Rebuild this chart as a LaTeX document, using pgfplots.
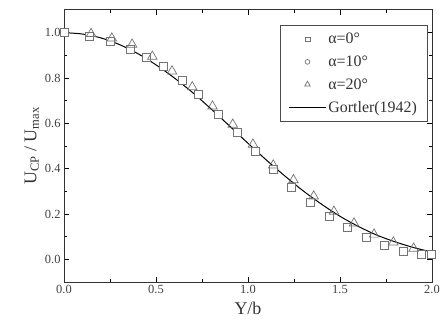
\documentclass[border=0pt]{standalone}
\usepackage{fontspec}
\setmainfont{Liberation Serif}
\usepackage{pgfplots}
\pgfplotsset{compat=1.18}
\begin{document}
\begin{tikzpicture}
\begin{axis}[
  scale only axis,
  width=368bp, height=272bp,
  xmin=0, xmax=2, ymin=-0.1, ymax=1.1,
  xtick={0,0.5,1,1.5,2},
  ytick={0,0.2,0.4,0.6,0.8,1.0},
  minor x tick num=1, minor y tick num=1,
  tick align=inside,
  major tick length=5bp, minor tick length=3bp,
  tick style={black, line width=0.8pt},
  axis line style={line width=1pt, black!80},
  /pgf/number format/assume math mode=true,
  /pgf/number format/.cd, fixed, fixed zerofill, precision=1,
  /pgfplots/.cd,
  tick label style={font=\fontsize{12.5}{13}\selectfont, text=black!75},
  xlabel={Y/b}, ylabel={U\textsubscript{CP} / U\textsubscript{max}},
  label style={font=\fontsize{18}{19}\selectfont, text=black!80},
  xlabel style={yshift=-1bp},
  ylabel style={yshift=-1bp},
  legend style={at={(rel axis cs:0.987,0.945)}, anchor=north east,
    draw=black!70, line width=0.6pt, font=\fontsize{16}{17}\selectfont,
    text=black!80, row sep=6.5bp, inner xsep=8bp, inner ysep=6bp},
  legend cell align=left,
  legend image code/.code={\draw[mark repeat=2,mark phase=2,#1] plot coordinates {(0cm,0cm) (0.65cm,0cm) (1.3cm,0cm)};},
]
% alpha = 10 deg (circles), drawn first, largely hidden under the other marks
\addplot[forget plot, only marks, mark=o, mark size=2.8bp, draw=black!55, line width=0.7pt] coordinates {
(0,1.0) (0.136,0.985) (0.25,0.96) (0.36,0.925) (0.446,0.89) (0.538,0.85)
(0.641,0.79) (0.73,0.727) (0.837,0.64) (0.94,0.56) (1.04,0.476) (1.136,0.396)
(1.234,0.318) (1.337,0.251) (1.44,0.19) (1.538,0.14) (1.641,0.095) (1.739,0.063)
(1.842,0.037) (1.94,0.02) (1.995,0.02)};
\addplot[only marks, mark=square*, mark size=4bp, draw=black!55, fill=white, line width=0.7pt,
  legend image post style={mark size=2.4bp}] coordinates {
(0,1.0) (0.136,0.985) (0.25,0.96) (0.36,0.925) (0.446,0.89) (0.538,0.85)
(0.641,0.79) (0.73,0.727) (0.837,0.64) (0.94,0.56) (1.04,0.476) (1.136,0.396)
(1.234,0.318) (1.337,0.251) (1.44,0.19) (1.538,0.14) (1.641,0.095) (1.739,0.063)
(1.842,0.037) (1.94,0.02) (1.995,0.02)};
\addlegendentry{α=0°}
\addlegendimage{only marks, mark=o, mark size=2.4bp, draw=black!55, line width=0.7pt}
\addlegendentry{α=10°}
\addplot[only marks, mark=triangle, mark size=5.5bp, draw=black!55, line width=0.7pt,
  legend image post style={mark size=3.2bp}] coordinates {
(0.147,0.995) (0.26,0.975) (0.37,0.948) (0.48,0.895) (0.587,0.83) (0.697,0.76)
(0.807,0.675) (0.917,0.595) (1.027,0.507) (1.137,0.415) (1.247,0.35) (1.357,0.278)
(1.467,0.211) (1.576,0.159) (1.685,0.11) (1.79,0.075) (1.9,0.048)};
\addlegendentry{α=20°}
\addplot[smooth, black, line width=1pt] coordinates {
(0,1.0) (0.1,0.994) (0.2,0.977) (0.3,0.948) (0.4,0.908) (0.5,0.858) (0.6,0.80)
(0.7,0.735) (0.8,0.663) (0.9,0.588) (1.0,0.512) (1.1,0.438) (1.2,0.368)
(1.3,0.302) (1.4,0.243) (1.5,0.19) (1.6,0.145) (1.7,0.107) (1.8,0.077)
(1.9,0.052) (2.0,0.032)};
\addlegendentry{Gortler(1942)}
\end{axis}
\path (0bp,0bp) ++(-64bp,-47bp) rectangle (382bp,282bp);
\end{tikzpicture}
\end{document}
